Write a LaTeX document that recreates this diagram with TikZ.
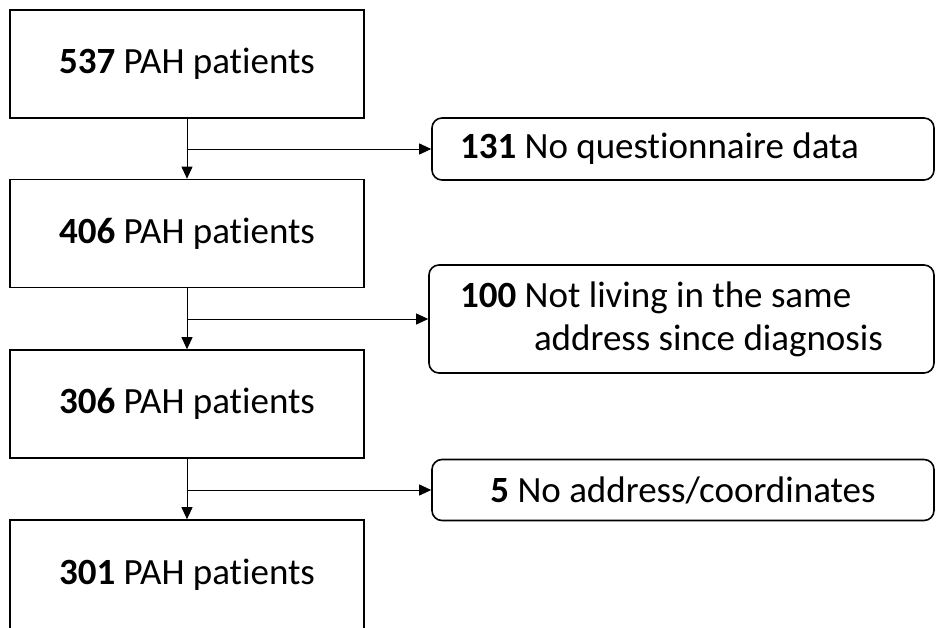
\documentclass[tikz,border=0pt]{standalone}
\usepackage{fontspec}
\setmainfont[Ligatures={NoCommon,NoContextual}]{Carlito}
\usetikzlibrary{arrows.meta}

\begin{document}
\begin{tikzpicture}[x=1pt, y=-1pt,
    square/.style={rectangle, draw, line width=1.6pt, minimum width=354pt, minimum height=108pt, inner sep=0pt, font=\fontsize{37}{43}\selectfont},
    excl/.style={rectangle, rounded corners=10pt, draw, line width=1.6pt, minimum height=61pt, inner ysep=0pt, font=\fontsize{37}{43}\selectfont},
    flow/.style={-{Triangle[length=12pt, width=11pt]}, line width=0.9pt}]
        \useasboundingbox (0,0) rectangle (936,628);
        \node at (187,64) [square] (p537) {\textbf{537} PAH patients};
        \node at (187,233.5) [square] (p406) {\textbf{406} PAH patients};
        \node at (187,404) [square] (p306) {\textbf{306} PAH patients};
        \node at (187,575) [square, minimum height=110pt] (p301) {\textbf{301} PAH patients};
        \node at (683,149) [excl, text width=446pt, inner xsep=28pt, align=flush left, minimum height=62pt] (x131) {\textbf{131} No questionnaire data};
        \node at (681.5,319) [excl, text width=443pt, inner xsep=31pt, align=flush left, minimum height=108pt] (x100) {\textbf{100} Not living in the same\\\hspace*{2em}address since diagnosis};
        \node at (683,490) [excl, minimum width=502pt, align=center] (x5) {\textbf{5} No address/coordinates};
        \draw [flow] (p537) -- (p406);
        \draw [flow] (x131.west -| p537.south) -- (x131);
        \draw [flow] (p406) -- (p306);
        \draw [flow] (x100.west -| p406.south) -- (x100);
        \draw [flow] (p306) -- (p301);
        \draw [flow] (x5.west -| p306.south) -- (x5);
    \end{tikzpicture}
\end{document}
